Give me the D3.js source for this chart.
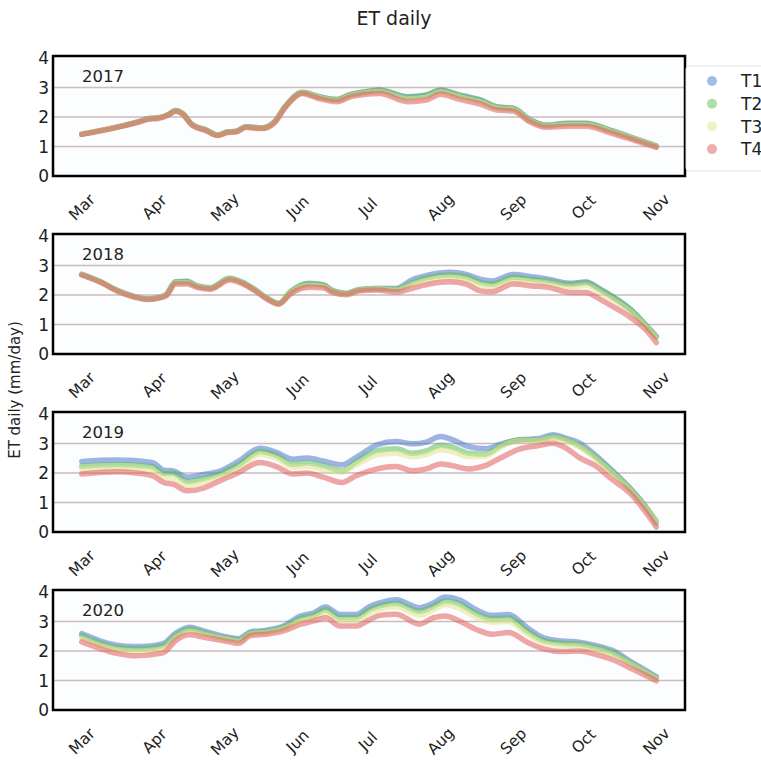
<!DOCTYPE html>
<html>
<head>
<meta charset="utf-8">
<script src="https://cdn.jsdelivr.net/npm/d3@7"></script>
<style>
  body { margin: 0; background: #fff; }
  text { font-family: "DejaVu Sans", sans-serif; fill: #222; }
</style>
</head>
<body>
<div id="chart-area"></div>
<script>
// Data: day offsets from 1 March, values in mm/day
const treatments = ["T1", "T2", "T3", "T4"];
const years = ["2017", "2018", "2019", "2020"];
const monthLabels = ["Mar", "Apr", "May", "Jun", "Jul", "Aug", "Sep", "Oct", "Nov"];
const monthDays = [0, 31, 61, 92, 122, 153, 184, 214, 245];
const yTicks = [0, 1, 2, 3, 4];

const days2017 = [0,15,25,28,33,37,40,43,47,53,58,62,66,70,73,77,82,87,94,101,109,114,121,127,139,147,153,161,170,177,184,191,198,207,215,226,236,245];
const t1_2017 = [1.42,1.66,1.86,1.94,1.98,2.09,2.22,2.12,1.75,1.56,1.39,1.49,1.52,1.67,1.65,1.63,1.82,2.38,2.83,2.69,2.59,2.74,2.85,2.91,2.68,2.74,2.91,2.74,2.57,2.34,2.29,1.91,1.72,1.78,1.78,1.53,1.26,1.01];
const t2_2017 = [1.42,1.66,1.86,1.94,1.98,2.09,2.22,2.12,1.75,1.56,1.39,1.49,1.52,1.67,1.65,1.63,1.82,2.38,2.84,2.70,2.60,2.75,2.86,2.92,2.69,2.75,2.92,2.75,2.58,2.35,2.30,1.92,1.73,1.79,1.79,1.54,1.27,1.02];
const t3_2017 = [1.42,1.66,1.85,1.93,1.97,2.08,2.21,2.11,1.74,1.55,1.38,1.48,1.51,1.66,1.64,1.62,1.81,2.37,2.82,2.67,2.56,2.71,2.82,2.86,2.61,2.67,2.85,2.68,2.51,2.30,2.25,1.88,1.69,1.74,1.74,1.50,1.24,1.00];
const t4_2017 = [1.41,1.65,1.84,1.92,1.96,2.07,2.20,2.10,1.73,1.54,1.37,1.47,1.50,1.65,1.63,1.61,1.79,2.35,2.80,2.63,2.52,2.67,2.77,2.80,2.52,2.58,2.77,2.60,2.44,2.24,2.20,1.84,1.65,1.69,1.69,1.45,1.20,0.97];

const days2018 = [0,8,15,22,28,32,36,40,45,49,55,63,69,74,79,84,89,97,103,107,113,118,126,134,141,148,157,164,170,175,184,192,199,208,215,221,226,234,241,245];
const t1_2018 = [2.70,2.45,2.16,1.96,1.87,1.90,2.01,2.44,2.46,2.31,2.24,2.56,2.41,2.17,1.89,1.71,2.10,2.38,2.34,2.14,2.05,2.18,2.22,2.22,2.52,2.68,2.77,2.70,2.54,2.48,2.70,2.62,2.54,2.40,2.44,2.20,1.96,1.50,0.93,0.58];
const t2_2018 = [2.70,2.45,2.16,1.96,1.87,1.90,2.02,2.45,2.47,2.32,2.25,2.57,2.42,2.18,1.90,1.72,2.12,2.40,2.35,2.15,2.05,2.18,2.22,2.20,2.43,2.60,2.68,2.62,2.43,2.37,2.60,2.54,2.48,2.37,2.43,2.20,1.97,1.52,0.95,0.60];
const t3_2018 = [2.69,2.44,2.15,1.95,1.86,1.89,1.99,2.41,2.42,2.29,2.22,2.54,2.39,2.16,1.88,1.70,2.08,2.33,2.30,2.12,2.03,2.16,2.21,2.16,2.36,2.52,2.60,2.54,2.33,2.28,2.52,2.46,2.40,2.28,2.33,2.10,1.87,1.44,0.90,0.55];
const t4_2018 = [2.68,2.43,2.14,1.94,1.85,1.88,1.97,2.37,2.37,2.26,2.20,2.51,2.37,2.14,1.86,1.69,2.03,2.26,2.24,2.09,2.01,2.14,2.17,2.10,2.23,2.37,2.45,2.37,2.14,2.11,2.37,2.31,2.26,2.09,2.09,1.86,1.63,1.24,0.78,0.39];

const days2019 = [0,15,30,35,39,45,52,59,67,76,83,90,96,103,111,117,126,134,141,147,153,158,165,172,179,187,195,201,207,212,219,226,234,241,245];
const t1_2019 = [2.39,2.44,2.36,2.10,2.07,1.86,1.95,2.07,2.41,2.84,2.70,2.47,2.51,2.41,2.28,2.53,2.96,3.07,2.99,3.05,3.24,3.13,2.90,2.82,2.99,3.13,3.17,3.30,3.17,3.03,2.61,2.10,1.47,0.79,0.30];
const t2_2019 = [2.23,2.29,2.22,1.99,2.00,1.71,1.82,1.98,2.28,2.73,2.60,2.30,2.35,2.25,2.08,2.38,2.76,2.82,2.67,2.75,2.94,2.88,2.67,2.64,2.94,3.13,3.12,3.24,3.12,2.94,2.55,2.06,1.45,0.80,0.38];
const t3_2019 = [2.12,2.17,2.10,1.85,1.82,1.58,1.68,1.88,2.17,2.64,2.50,2.20,2.23,2.12,2.03,2.28,2.62,2.68,2.55,2.63,2.79,2.73,2.56,2.57,2.90,3.10,3.10,3.20,3.08,2.90,2.50,2.02,1.42,0.76,0.33];
const t4_2019 = [1.97,2.04,1.91,1.68,1.62,1.40,1.49,1.74,2.02,2.36,2.22,1.97,2.00,1.86,1.68,1.91,2.14,2.22,2.08,2.14,2.31,2.25,2.14,2.25,2.53,2.82,2.93,3.01,2.82,2.53,2.25,1.79,1.30,0.62,0.17];

const days2020 = [0,8,15,22,29,35,40,46,52,57,63,67,72,79,86,93,99,104,110,117,123,127,134,144,150,155,161,168,175,182,190,197,205,212,219,226,235,245];
const t1_2020 = [2.59,2.34,2.20,2.15,2.17,2.26,2.60,2.81,2.68,2.57,2.46,2.42,2.65,2.71,2.85,3.18,3.30,3.49,3.24,3.24,3.52,3.63,3.74,3.47,3.63,3.83,3.74,3.41,3.21,3.24,2.79,2.45,2.34,2.30,2.19,2.03,1.60,1.13];
const t2_2020 = [2.52,2.27,2.13,2.08,2.10,2.19,2.53,2.75,2.62,2.52,2.42,2.38,2.62,2.67,2.80,3.10,3.22,3.40,3.14,3.14,3.42,3.53,3.62,3.35,3.52,3.70,3.60,3.28,3.10,3.12,2.68,2.36,2.26,2.24,2.12,1.96,1.55,1.09];
const t3_2020 = [2.44,2.19,2.05,2.00,2.02,2.10,2.46,2.68,2.57,2.48,2.38,2.33,2.58,2.63,2.75,3.02,3.14,3.30,3.04,3.04,3.30,3.42,3.50,3.22,3.40,3.58,3.46,3.15,2.98,3.00,2.58,2.28,2.19,2.18,2.06,1.90,1.51,1.06];
const t4_2020 = [2.31,2.08,1.92,1.84,1.87,1.95,2.35,2.55,2.47,2.40,2.31,2.26,2.53,2.57,2.68,2.90,3.02,3.13,2.85,2.85,3.07,3.21,3.25,2.91,3.13,3.19,3.02,2.74,2.57,2.63,2.30,2.07,1.98,2.00,1.89,1.72,1.38,0.99];

const panels = [
  { year: "2017", days: days2017, series: [t1_2017, t2_2017, t3_2017, t4_2017] },
  { year: "2018", days: days2018, series: [t1_2018, t2_2018, t3_2018, t4_2018] },
  { year: "2019", days: days2019, series: [t1_2019, t2_2019, t3_2019, t4_2019] },
  { year: "2020", days: days2020, series: [t1_2020, t2_2020, t3_2020, t4_2020] }
];

// Canvas
const W = 761, H = 762;
const left = 53, right = 685;
const panelTop = 56, panelStep = 178, panelH = 120;

const svg = d3.select("#chart-area")
  .append("svg")
  .attr("width", W)
  .attr("height", H);

// Scales
const x = d3.scaleLinear().domain([-12.25, 257.25]).range([left, right]);
const y = d3.scaleLinear().domain([0, 4.07]).range([panelH, 0]);
const color = d3.scaleOrdinal()
  .domain(treatments)
  .range(["#4a78cc", "#5cbd5c", "#dfe38a", "#e25d5d"]);

// Title and y label
svg.append("text")
  .attr("x", 394).attr("y", 25)
  .attr("text-anchor", "middle")
  .style("font-size", "19px")
  .text("ET daily");

svg.append("text")
  .attr("transform", "translate(20, 390) rotate(-90)")
  .attr("text-anchor", "middle")
  .style("font-size", "15px")
  .text("ET daily (mm/day)");

const line = d3.line()
  .x(d => x(d[0]))
  .y(d => y(d[1]))
  .curve(d3.curveMonotoneX);

panels.forEach((p, i) => {
  const g = svg.append("g")
    .attr("transform", `translate(0, ${panelTop + i * panelStep})`);

  g.append("rect")
    .attr("x", left).attr("y", 0)
    .attr("width", right - left).attr("height", panelH)
    .attr("fill", "#fcfdfe");

  // grid lines
  g.selectAll(".grid")
    .data(yTicks.slice(1, 4))
    .enter().append("line")
    .attr("x1", left).attr("x2", right)
    .attr("y1", d => y(d)).attr("y2", d => y(d))
    .attr("stroke", "#c9bdbd")
    .attr("stroke-width", 1.5);

  // series
  p.series.forEach((vals, k) => {
    g.append("path")
      .datum(p.days.map((d, j) => [d, vals[j]]))
      .attr("fill", "none")
      .attr("stroke", color(treatments[k]))
      .attr("stroke-width", 5.5)
      .attr("stroke-opacity", 0.55)
      .attr("stroke-linejoin", "round")
      .attr("stroke-linecap", "round")
      .attr("d", line);
  });

  // frame
  g.append("rect")
    .attr("x", left).attr("y", 0)
    .attr("width", right - left).attr("height", panelH)
    .attr("fill", "none")
    .attr("stroke", "#000")
    .attr("stroke-width", 2.5);

  g.append("text")
    .attr("x", 82).attr("y", 26)
    .style("font-size", "16.5px")
    .text(p.year);

  // y axis labels
  g.selectAll(".ytick")
    .data(yTicks)
    .enter().append("text")
    .attr("x", 49)
    .attr("y", d => y(d))
    .attr("dy", "0.36em")
    .attr("text-anchor", "end")
    .style("font-size", "17px")
    .text(d => d);

  // x axis labels (rotated)
  g.selectAll(".xtick")
    .data(monthDays)
    .enter().append("text")
    .attr("transform", d => `translate(${x(d)}, ${panelH + 31}) rotate(-45)`)
    .attr("text-anchor", "middle")
    .attr("dy", "0.35em")
    .style("font-size", "15.5px")
    .text((d, j) => monthLabels[j]);
});

// Legend
const legend = svg.append("g").attr("transform", "translate(686, 66)");
legend.append("rect")
  .attr("width", 100).attr("height", 105)
  .attr("rx", 3)
  .attr("fill", "#fff")
  .attr("stroke", "#e2e2e2");

const lg = legend.selectAll(".lg")
  .data(treatments)
  .enter().append("g")
  .attr("transform", (d, i) => `translate(0, ${15 + i * 22.7})`);

lg.append("circle")
  .attr("cx", 26).attr("r", 5)
  .attr("fill", d => color(d))
  .attr("fill-opacity", 0.5);

lg.append("text")
  .attr("x", 55).attr("dy", "0.36em")
  .style("font-size", "17px")
  .text(d => d);
</script>
</body>
</html>
